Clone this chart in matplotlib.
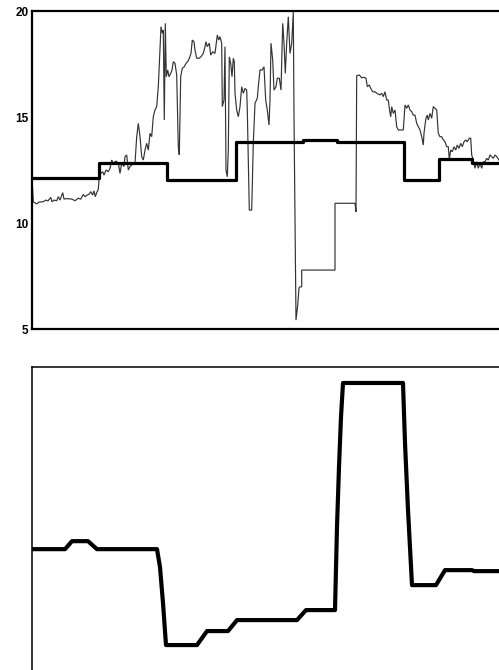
import matplotlib
matplotlib.use("Agg")
import matplotlib.pyplot as plt
import numpy as np

# ---- top panel: measured (thin) series ----
thin_t = [0, 1.3, 4.7, 7, 11, 14, 16, 18.7, 20, 22, 24.7, 26.3, 28, 30.7, 32, 34.7, 39.7, 43, 46.3, 48.7,
          51.3, 53, 55.3, 57.3, 58.7, 60.7, 62, 63.3, 64.7, 66.3, 67.3, 68.7, 70.7, 72, 74, 76.3, 78, 79.7,
          81.3, 84, 86.3, 88, 89.7, 92, 93, 94.7, 96.3, 98, 99.7, 103, 104.7, 106.3, 108, 109.7, 111.3, 113,
          114.7, 116.3, 118, 119.7, 121.3, 123, 124.7, 126.3, 128, 129, 130.3, 131.3, 132.3, 133.3, 134.3,
          135.7, 137, 138.7, 140, 141.3, 143, 144.7, 146.3, 147.3, 148.7, 150.3, 152.3, 154, 155.7, 157.3,
          159, 160.3, 162, 163, 164.7, 167, 169, 171.3, 173, 174, 175.3, 177.3, 178.7, 180.7, 183, 185.3,
          186.7, 188, 189.7, 190.3, 192, 193, 194, 195.3, 196.3, 197.3, 198.7, 200, 201.3, 202.3, 203, 204.7,
          206.3, 208, 209.7, 211.3, 213, 214.7, 215.3, 217.3, 219.7, 221.3, 223, 225.3, 226.3, 228, 230.3,
          232, 233.7, 235.3, 237, 238, 239, 240.7, 242, 244, 245.3, 247.3, 249, 250.7, 252, 253.3, 254.7,
          256.3, 258, 259.7, 261.3, 262, 264, 265.7, 267, 268, 269.7, 269.7, 303, 303, 323, 324, 324.7,
          327.3, 329.7, 332, 334, 335.3, 337.3, 338.7, 340.7, 343, 344.7, 348, 349.7, 351.3, 353, 354.7,
          356.3, 357.3, 358.7, 359.7, 361.3, 363, 364.7, 366.3, 371.3, 373, 374.7, 376.3, 378, 379.7, 381.3,
          383, 384.7, 386.3, 388, 389.7, 391.3, 392, 393, 394, 395.3, 396.3, 398, 399.7, 401.3, 403, 404.7,
          406.3, 408, 409.7, 411.3, 413, 414.7, 416.3, 417.3, 418.7, 420.3, 422, 423.7, 425.3, 427, 428.7,
          430.3, 432, 433.7, 435.3, 437.3, 438.7, 439.7, 441.3, 443, 444.7, 446.3, 448, 449.7, 451.3, 453,
          454.7, 456.3, 458, 459.7, 461.3, 463, 464.7, 467]
thin_v = [12.12, 11.00, 10.90, 10.99, 11.00, 11.08, 11.04, 11.21, 11.00, 11.08, 11.05, 11.24, 11.08, 11.43,
          11.13, 11.15, 11.13, 11.05, 11.17, 11.12, 11.35, 11.24, 11.32, 11.37, 11.48, 11.32, 11.52, 11.24,
          11.43, 11.59, 12.18, 12.34, 12.42, 12.26, 12.50, 12.42, 12.58, 12.97, 12.82, 12.92, 12.84, 12.34,
          12.82, 12.66, 13.13, 13.21, 12.50, 12.66, 12.74, 12.82, 14.07, 14.70, 14.07, 13.13, 12.97, 13.44,
          13.76, 13.44, 14.23, 14.07, 15.01, 15.33, 15.49, 16.43, 18.16, 19.26, 18.95, 19.10, 14.86, 19.42,
          16.90, 17.22, 16.90, 17.06, 17.22, 17.61, 17.53, 16.98, 13.60, 13.21, 16.90, 17.30, 17.37, 17.53,
          17.61, 17.77, 18.00, 18.63, 18.55, 18.16, 17.77, 17.77, 17.84, 18.00, 18.32, 18.55, 18.32, 18.48,
          17.92, 18.08, 18.00, 18.87, 18.63, 18.79, 18.48, 15.49, 15.80, 18.32, 12.50, 12.18, 13.44, 17.84,
          17.53, 16.90, 17.77, 17.61, 16.12, 15.33, 15.01, 15.49, 16.43, 16.12, 16.35, 16.27, 15.33, 10.61,
          10.61, 13.76, 15.65, 15.88, 16.43, 17.22, 17.22, 17.37, 15.80, 15.33, 14.62, 15.80, 18.48, 17.69,
          16.27, 16.43, 16.83, 16.83, 16.27, 19.42, 18.48, 17.06, 18.48, 19.73, 18.00, 18.48, 19.95, 15.05,
          5.42, 6.13, 6.93, 6.99, 6.99, 7.78, 7.78, 10.93, 10.93, 10.53, 16.95, 16.98, 16.85, 16.87, 16.83,
          16.43, 16.51, 16.35, 16.19, 16.19, 16.12, 16.04, 16.12, 15.96, 16.19, 15.80, 15.80, 15.41, 15.01,
          15.49, 15.17, 15.33, 14.54, 14.39, 14.39, 15.57, 15.41, 15.57, 15.33, 15.25, 15.09, 15.09, 14.70,
          14.54, 14.39, 14.07, 13.68, 14.23, 14.62, 14.95, 15.09, 14.86, 15.17, 14.94, 15.49, 15.41, 15.33,
          14.23, 14.07, 14.07, 13.92, 13.83, 13.60, 13.60, 13.00, 13.44, 13.36, 13.60, 13.44, 13.68, 13.52,
          13.76, 13.60, 13.83, 13.92, 13.83, 14.00, 14.00, 13.21, 12.97, 12.58, 12.89, 12.58, 12.82, 12.58,
          12.89, 12.89, 13.05, 12.97, 13.21, 13.13, 13.05, 13.21, 13.13, 12.97]

# ---- top panel: step (thick) series ----
step_t = [0, 67, 135, 204, 271, 305, 372, 407, 440, 467]
step_v = [12.12, 12.83, 12.03, 13.83, 13.92, 13.83, 12.03, 13.00, 12.83, 12.83]

# ---- bottom panel series ----
bot_t = [0, 33, 40, 56, 65, 125, 128, 131, 134, 165, 175, 196, 205, 265, 274, 303, 305, 307, 309, 311,
         371, 373, 376, 380, 404, 413, 440, 442, 467]
bot_v = [45.3, 45.3, 47.7, 47.7, 45.3, 45.3, 39.9, 29.1, 16.5, 16.5, 20.7, 20.7, 24.0, 24.0, 27.0, 27.0,
         52.0, 70.0, 85.0, 95.2, 95.2, 77.2, 57.1, 34.5, 34.5, 39.0, 39.0, 38.7, 38.7]

y_ticks = [5, 10, 15, 20]

W, H = 499, 670
fig = plt.figure(figsize=(W / 100, H / 100), dpi=100)

def frac(x0, y0, x1, y1):
    return [x0 / W, 1 - y1 / H, (x1 - x0) / W, (y1 - y0) / H]

# top axes
ax1 = fig.add_axes(frac(32, 11, 503, 329))
ax1.plot(thin_t, thin_v, color="#333333", lw=0.85, solid_joinstyle="miter")
ax1.step(step_t, step_v, where="post", color="black", lw=2.3)
ax1.set_xlim(0, 471)
ax1.set_ylim(5, 20)
ax1.set_yticks(y_ticks)
ax1.set_yticklabels([str(v) for v in y_ticks], fontsize=8.5, fontweight="bold",
                    family=["Liberation Sans", "DejaVu Sans"])
ax1.tick_params(axis="y", length=0, pad=2.5)
ax1.set_xticks([])
for s in ["left", "top", "bottom", "right"]:
    ax1.spines[s].set_linewidth(1.6)

# bottom axes
ax2 = fig.add_axes(frac(32, 367, 503, 700))
ax2.plot(bot_t, bot_v, color="black", lw=3.0, solid_joinstyle="round", solid_capstyle="round")
ax2.set_xlim(0, 471)
ax2.set_ylim(0, 100)
ax2.set_xticks([])
ax2.set_yticks([])
for s in ["left", "top", "bottom", "right"]:
    ax2.spines[s].set_linewidth(1.1)

fig.savefig("out.png", dpi=100)
